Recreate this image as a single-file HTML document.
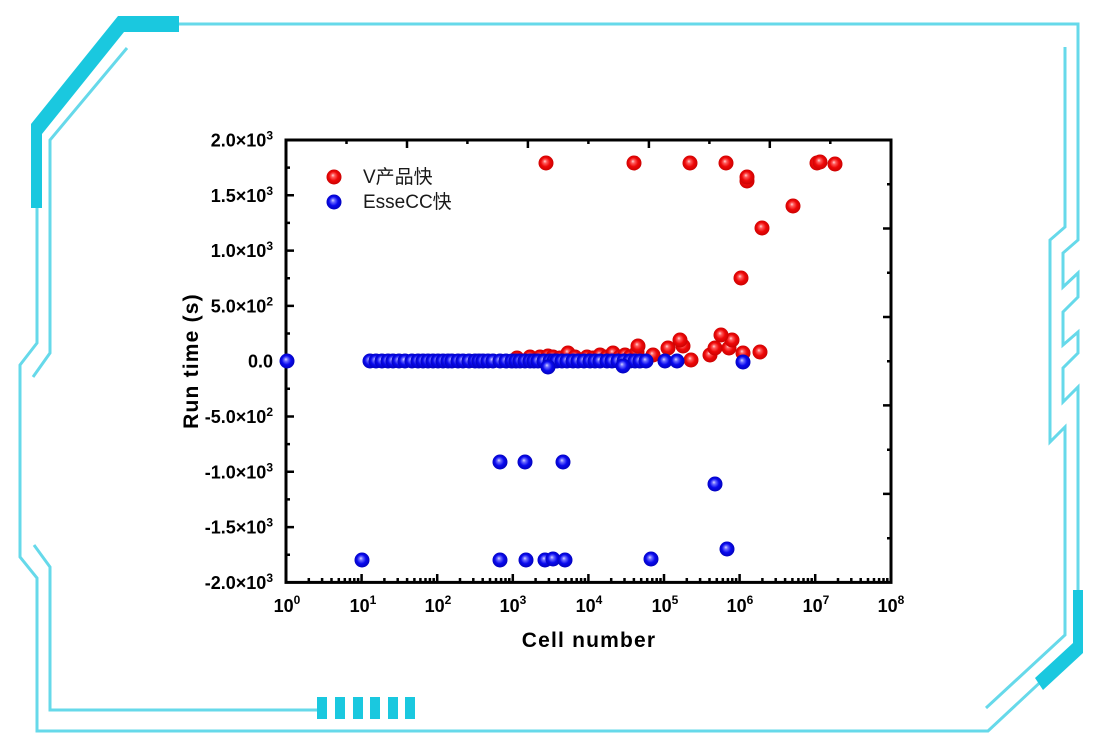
<!DOCTYPE html>
<html>
<head>
<meta charset="utf-8">
<style>
  html, body { margin: 0; padding: 0; background: #ffffff; }
  svg { display: block; }
  .tl { font-family: "Liberation Sans", "Noto Sans CJK SC", sans-serif; font-weight: bold; fill: #000; }
</style>
</head>
<body>
<svg width="1095" height="753" viewBox="0 0 1095 753" xmlns="http://www.w3.org/2000/svg">
  <defs>
    <radialGradient id="rs" cx="0.5" cy="0.5" r="0.55" fx="0.42" fy="0.38">
      <stop offset="0" stop-color="#ffd6d6"/>
      <stop offset="0.22" stop-color="#ff5a5a"/>
      <stop offset="0.55" stop-color="#ee0808"/>
      <stop offset="1" stop-color="#c40000"/>
    </radialGradient>
    <radialGradient id="bs" cx="0.5" cy="0.5" r="0.55" fx="0.42" fy="0.38">
      <stop offset="0" stop-color="#d8d8ff"/>
      <stop offset="0.22" stop-color="#6a6aff"/>
      <stop offset="0.55" stop-color="#0a0aee"/>
      <stop offset="1" stop-color="#0000b4"/>
    </radialGradient>
  </defs>

  <!-- ===== Decorative frame ===== -->
  <g fill="none" stroke="#66d9ea" stroke-width="3" stroke-linejoin="miter">
    <path d="M178 24 L1078 24 L1078 240 L1063 253 L1063 287 L1078 273 L1078 297 L1063 312 L1063 345 L1078 332 L1078 353 L1063 368 L1063 402 L1078 387 L1078 647 L988 731 L37 731 L37 578 L20 557 L20 365 L37 343 L37 128"/>
    <path d="M1065 47 L1065 227 L1050 240 L1050 442 L1065 427 L1065 635 L986 708"/>
    <path d="M127 48 L50 140 L50 353 L33 377"/>
    <path d="M34 545 L50 567 L50 710 L318 710"/>
  </g>
  <g fill="#1ac8df">
    <polygon points="118,16 179,16 179,32 124,32 42,134 42,208 31,208 31,124"/>
    <polygon points="1073,590 1083,590 1083,653 1043,690 1035,678 1073,643"/>
    <rect x="317" y="697" width="10" height="22"/>
    <rect x="335" y="697" width="10" height="22"/>
    <rect x="353" y="697" width="10" height="22"/>
    <rect x="370" y="697" width="10" height="22"/>
    <rect x="388" y="697" width="10" height="22"/>
    <rect x="405" y="697" width="10" height="22"/>
  </g>

  <!-- ===== Axes box ===== -->
  <rect x="286" y="140" width="605" height="442.4" fill="none" stroke="#000" stroke-width="3"/>

  <g stroke="#000" stroke-width="2.5" fill="none">
    <path d="M286 195.3 h8 M286 250.6 h8 M286 305.9 h8 M286 361.2 h8 M286 416.5 h8 M286 471.8 h8 M286 527.1 h8"/>
    <path d="M286 167.6 h4 M286 222.9 h4 M286 278.2 h4 M286 333.5 h4 M286 388.8 h4 M286 444.1 h4 M286 499.4 h4 M286 554.7 h4"/>
    <path d="M407 140 v8 M527.9 140 v8 M648.9 140 v8 M769.8 140 v8"/>
    <path d="M346.5 140 v4 M467.4 140 v4 M588.4 140 v4 M709.4 140 v4 M830.3 140 v4"/>
    <path d="M891 228.5 h-8 M891 317 h-8 M891 405.4 h-8 M891 493.9 h-8"/>
    <path d="M891 184.2 h-4 M891 272.7 h-4 M891 361.2 h-4 M891 449.7 h-4 M891 538.2 h-4"/>
    <path d="M361.6 582 v-8 M437.2 582 v-8 M512.8 582 v-8 M588.4 582 v-8 M664 582 v-8 M739.6 582 v-8 M815.2 582 v-8"/>
    <path d="M308.8 582 v-4 M322.1 582 v-4 M331.5 582 v-4 M338.8 582 v-4 M344.8 582 v-4 M349.9 582 v-4 M354.3 582 v-4 M358.1 582 v-4
             M384.4 582 v-4 M397.7 582 v-4 M407.1 582 v-4 M414.4 582 v-4 M420.4 582 v-4 M425.5 582 v-4 M429.9 582 v-4 M433.7 582 v-4
             M460 582 v-4 M473.3 582 v-4 M482.7 582 v-4 M490 582 v-4 M496 582 v-4 M501.1 582 v-4 M505.5 582 v-4 M509.3 582 v-4
             M535.6 582 v-4 M548.9 582 v-4 M558.3 582 v-4 M565.6 582 v-4 M571.6 582 v-4 M576.7 582 v-4 M581.1 582 v-4 M584.9 582 v-4
             M611.2 582 v-4 M624.5 582 v-4 M633.9 582 v-4 M641.2 582 v-4 M647.2 582 v-4 M652.3 582 v-4 M656.7 582 v-4 M660.5 582 v-4
             M686.8 582 v-4 M700.1 582 v-4 M709.5 582 v-4 M716.8 582 v-4 M722.8 582 v-4 M727.9 582 v-4 M732.3 582 v-4 M736.1 582 v-4
             M762.4 582 v-4 M775.7 582 v-4 M785.1 582 v-4 M792.4 582 v-4 M798.4 582 v-4 M803.5 582 v-4 M807.9 582 v-4 M811.7 582 v-4
             M838 582 v-4 M851.3 582 v-4 M860.7 582 v-4 M868 582 v-4 M874 582 v-4 M879.1 582 v-4 M883.5 582 v-4 M887.3 582 v-4"/>
  </g>

  <!-- ===== Y tick labels ===== -->
  <g class="tl" font-size="18" text-anchor="end">
    <text x="273" y="146.5">2.0×10<tspan dy="-7" font-size="12">3</tspan></text>
    <text x="273" y="201.8">1.5×10<tspan dy="-7" font-size="12">3</tspan></text>
    <text x="273" y="257.1">1.0×10<tspan dy="-7" font-size="12">3</tspan></text>
    <text x="273" y="312.4">5.0×10<tspan dy="-7" font-size="12">2</tspan></text>
    <text x="273" y="367.7">0.0</text>
    <text x="273" y="423">-5.0×10<tspan dy="-7" font-size="12">2</tspan></text>
    <text x="273" y="478.3">-1.0×10<tspan dy="-7" font-size="12">3</tspan></text>
    <text x="273" y="533.6">-1.5×10<tspan dy="-7" font-size="12">3</tspan></text>
    <text x="273" y="588.9">-2.0×10<tspan dy="-7" font-size="12">3</tspan></text>
  </g>

  <!-- ===== X tick labels ===== -->
  <g class="tl" font-size="18" text-anchor="middle">
    <text x="287" y="612">10<tspan dy="-8" font-size="12">0</tspan></text>
    <text x="363" y="612">10<tspan dy="-8" font-size="12">1</tspan></text>
    <text x="438" y="612">10<tspan dy="-8" font-size="12">2</tspan></text>
    <text x="513" y="612">10<tspan dy="-8" font-size="12">3</tspan></text>
    <text x="589" y="612">10<tspan dy="-8" font-size="12">4</tspan></text>
    <text x="665" y="612">10<tspan dy="-8" font-size="12">5</tspan></text>
    <text x="740" y="612">10<tspan dy="-8" font-size="12">6</tspan></text>
    <text x="816" y="612">10<tspan dy="-8" font-size="12">7</tspan></text>
    <text x="891" y="612">10<tspan dy="-8" font-size="12">8</tspan></text>
  </g>

  <!-- ===== Axis titles ===== -->
  <text class="tl" x="589" y="647" font-size="21" letter-spacing="1.2" text-anchor="middle">Cell number</text>
  <text class="tl" x="0" y="0" font-size="21" letter-spacing="1.2" text-anchor="middle" transform="translate(198 361) rotate(-90)">Run time (s)</text>

  <!-- ===== Legend ===== -->
  <circle cx="334" cy="177" r="7.5" fill="url(#rs)"/>
  <circle cx="334" cy="202" r="7.5" fill="url(#bs)"/>
  <text x="363" y="183" font-family="'Liberation Sans', 'Noto Sans CJK SC', sans-serif" font-size="19" fill="#1a1a1a">V产品快</text>
  <text x="363" y="208" font-family="'Liberation Sans', 'Noto Sans CJK SC', sans-serif" font-size="19" fill="#1a1a1a">EsseCC快</text>

  <!-- ===== Red series ===== -->
  <g fill="url(#rs)">
    <circle cx="517" cy="358" r="7.5"/><circle cx="530" cy="357" r="7.5"/><circle cx="540" cy="357" r="7.5"/>
    <circle cx="548" cy="356" r="7.5"/><circle cx="553" cy="357" r="7.5"/><circle cx="560" cy="358" r="7.5"/>
    <circle cx="568" cy="353" r="7.5"/><circle cx="575" cy="357" r="7.5"/><circle cx="587" cy="357" r="7.5"/>
    <circle cx="593" cy="358" r="7.5"/><circle cx="600" cy="355" r="7.5"/><circle cx="607" cy="357" r="7.5"/>
    <circle cx="613" cy="353" r="7.5"/><circle cx="620" cy="357" r="7.5"/><circle cx="625" cy="355" r="7.5"/>
    <circle cx="630" cy="357" r="7.5"/>
    <circle cx="637" cy="352" r="7.5"/><circle cx="638" cy="346" r="7.5"/>
    <circle cx="653" cy="355" r="7.5"/><circle cx="668" cy="348" r="7.5"/>
    <circle cx="683" cy="346" r="7.5"/><circle cx="680" cy="340" r="7.5"/>
    <circle cx="691" cy="360" r="7.5"/>
    <circle cx="710" cy="355" r="7.5"/><circle cx="715" cy="348" r="7.5"/>
    <circle cx="729" cy="348" r="7.5"/><circle cx="732" cy="340" r="7.5"/><circle cx="721" cy="335" r="7.5"/>
    <circle cx="743" cy="353" r="7.5"/><circle cx="760" cy="352" r="7.5"/>
    <circle cx="741" cy="278" r="7.5"/>
    <circle cx="762" cy="228" r="7.5"/>
    <circle cx="793" cy="206" r="7.5"/>
    <circle cx="747" cy="181" r="7.5"/><circle cx="747" cy="177" r="7.5"/>
    <circle cx="546" cy="163" r="7.5"/><circle cx="634" cy="163" r="7.5"/><circle cx="690" cy="163" r="7.5"/>
    <circle cx="726" cy="163" r="7.5"/><circle cx="817" cy="163" r="7.5"/><circle cx="820" cy="162" r="7.5"/>
    <circle cx="835" cy="164" r="7.5"/>
  </g>

  <!-- ===== Blue series ===== -->
  <g fill="url(#bs)">
    <circle cx="287" cy="361" r="7.5"/>
    <circle cx="370" cy="361" r="7.5"/><circle cx="376" cy="361" r="7.5"/><circle cx="382" cy="361" r="7.5"/>
    <circle cx="388" cy="361" r="7.5"/><circle cx="393" cy="361" r="7.5"/><circle cx="399" cy="361" r="7.5"/>
    <circle cx="405" cy="361" r="7.5"/><circle cx="412" cy="361" r="7.5"/><circle cx="418" cy="361" r="7.5"/>
    <circle cx="423" cy="361" r="7.5"/><circle cx="428" cy="361" r="7.5"/><circle cx="433" cy="361" r="7.5"/>
    <circle cx="438" cy="361" r="7.5"/><circle cx="443" cy="361" r="7.5"/><circle cx="448" cy="361" r="7.5"/>
    <circle cx="452" cy="361" r="7.5"/><circle cx="458" cy="361" r="7.5"/><circle cx="463" cy="361" r="7.5"/>
    <circle cx="469" cy="361" r="7.5"/><circle cx="475" cy="361" r="7.5"/><circle cx="479" cy="361" r="7.5"/>
    <circle cx="483" cy="361" r="7.5"/><circle cx="488" cy="361" r="7.5"/><circle cx="493" cy="361" r="7.5"/>
    <circle cx="500" cy="361" r="7.5"/><circle cx="506" cy="361" r="7.5"/><circle cx="512" cy="361" r="7.5"/>
    <circle cx="516" cy="361" r="7.5"/><circle cx="520" cy="361" r="7.5"/><circle cx="525" cy="361" r="7.5"/>
    <circle cx="530" cy="361" r="7.5"/><circle cx="534" cy="361" r="7.5"/><circle cx="538" cy="361" r="7.5"/>
    <circle cx="544" cy="361" r="7.5"/><circle cx="550" cy="361" r="7.5"/><circle cx="554" cy="361" r="7.5"/>
    <circle cx="557" cy="361" r="7.5"/><circle cx="562" cy="361" r="7.5"/><circle cx="567" cy="361" r="7.5"/>
    <circle cx="573" cy="361" r="7.5"/><circle cx="578" cy="361" r="7.5"/><circle cx="584" cy="361" r="7.5"/>
    <circle cx="590" cy="361" r="7.5"/><circle cx="595" cy="361" r="7.5"/><circle cx="600" cy="361" r="7.5"/>
    <circle cx="607" cy="361" r="7.5"/><circle cx="612" cy="361" r="7.5"/><circle cx="618" cy="361" r="7.5"/>
    <circle cx="624" cy="361" r="7.5"/><circle cx="630" cy="361" r="7.5"/><circle cx="635" cy="361" r="7.5"/>
    <circle cx="640" cy="361" r="7.5"/><circle cx="646" cy="361" r="7.5"/>
    <circle cx="548" cy="367" r="7.5"/><circle cx="623" cy="366" r="7.5"/>
    <circle cx="665" cy="361" r="7.5"/><circle cx="677" cy="361" r="7.5"/>
    <circle cx="743" cy="362" r="7.5"/>
    <circle cx="500" cy="462" r="7.5"/><circle cx="525" cy="462" r="7.5"/><circle cx="563" cy="462" r="7.5"/>
    <circle cx="715" cy="484" r="7.5"/>
    <circle cx="727" cy="549" r="7.5"/>
    <circle cx="362" cy="560" r="7.5"/><circle cx="500" cy="560" r="7.5"/><circle cx="526" cy="560" r="7.5"/>
    <circle cx="545" cy="560" r="7.5"/><circle cx="553" cy="559" r="7.5"/><circle cx="565" cy="560" r="7.5"/>
    <circle cx="651" cy="559" r="7.5"/>
  </g>
</svg>
</body>
</html>
